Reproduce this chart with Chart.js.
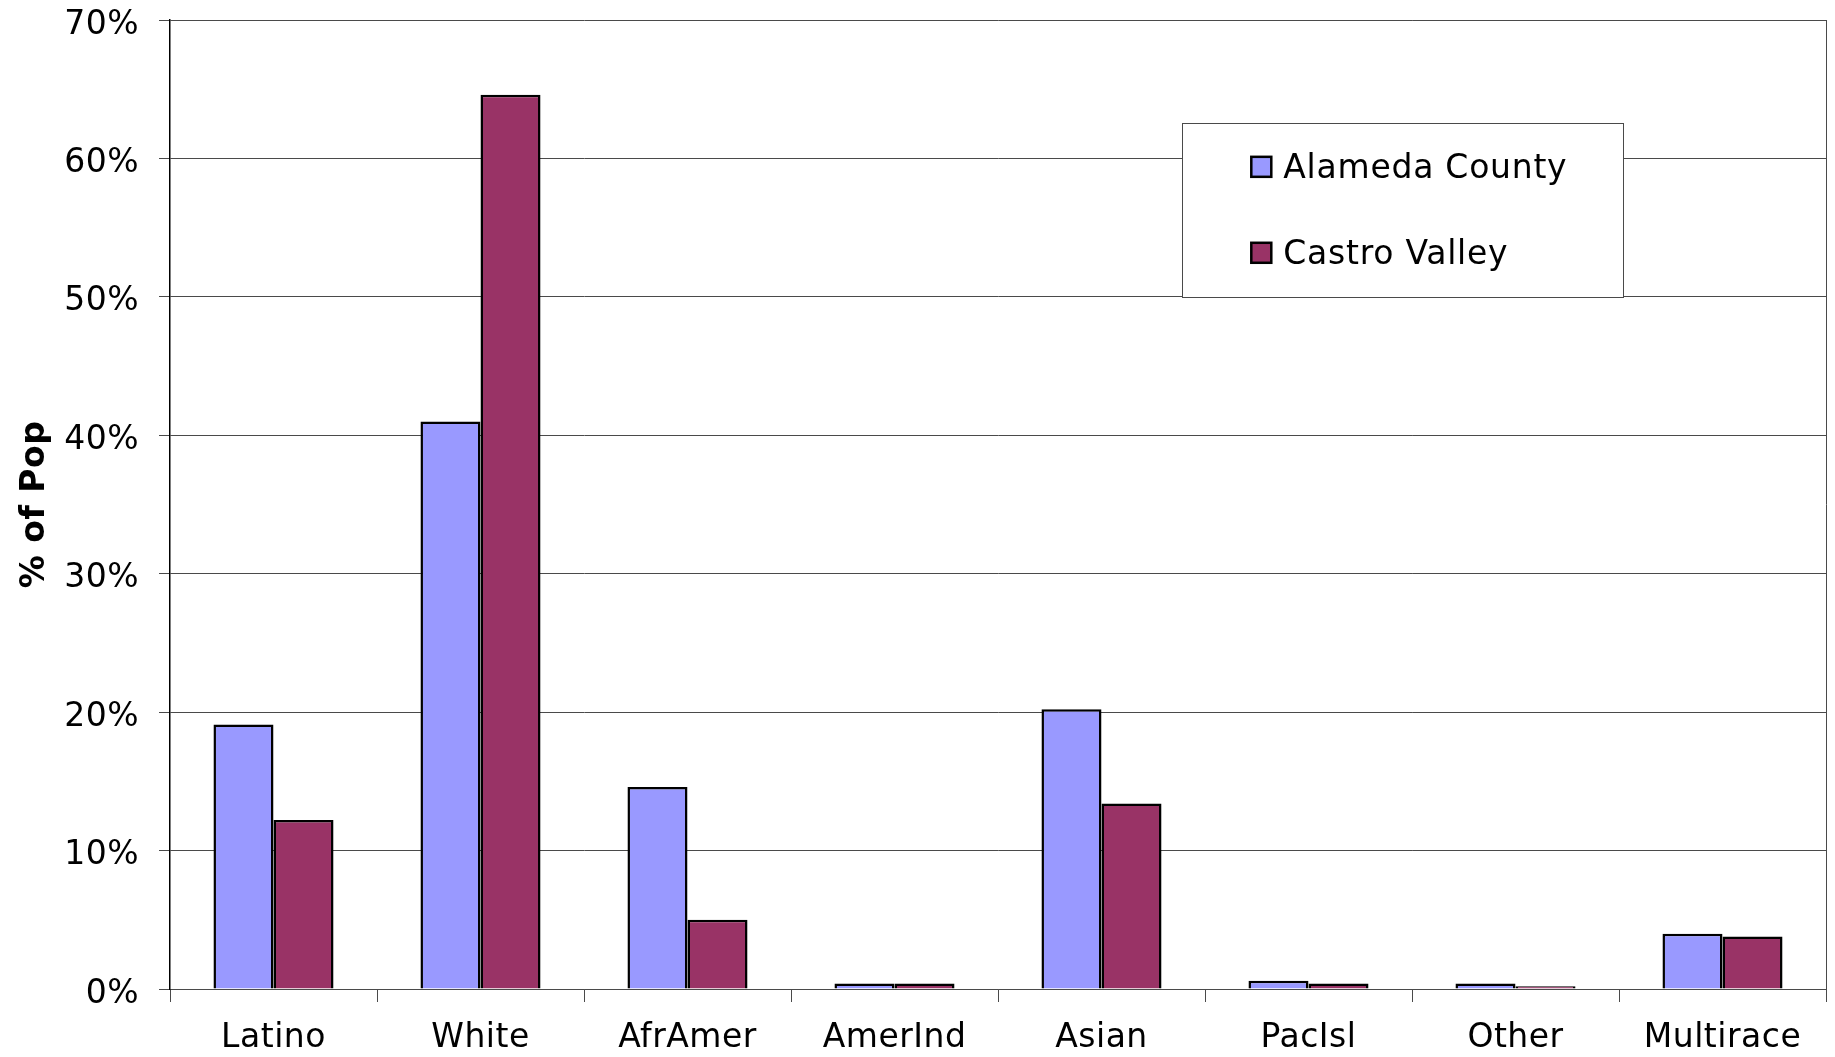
<!DOCTYPE html>
<html>
<head>
<meta charset="utf-8">
<script src="https://cdn.jsdelivr.net/npm/chart.js@4.4.1/dist/chart.umd.min.js"></script>
<style>
html, body { margin: 0; padding: 0; background: #fff; }
#wrap { width: 1835px; height: 1057px; }
</style>
</head>
<body>
<div id="wrap"><canvas id="popChart" width="1835" height="1057"></canvas></div>
<script>
const categories = ['Latino', 'White', 'AfrAmer', 'AmerInd', 'Asian', 'PacIsl', 'Other', 'Multirace'];
const alamedaCounty = [19.1, 41.0, 14.6, 0.4, 20.2, 0.6, 0.4, 4.0];
const castroValley = [12.2, 64.6, 5.0, 0.4, 13.4, 0.4, 0.2, 3.8];
const yTicks = [0, 10, 20, 30, 40, 50, 60, 70];
const seriesNames = ['Alameda County', 'Castro Valley'];
const seriesColors = ['#9999ff', '#993366'];

const FONT = 'DejaVu Sans';
const lineColor = '#4a4a4a';

// canvas loses letterSpacing whenever it is resized, so set it again before layout and draw
const spacing = {
    id: 'spacing',
    beforeUpdate(chart) { chart.ctx.letterSpacing = '0.5px'; },
    beforeLayout(chart) { chart.ctx.letterSpacing = '0.5px'; },
    beforeDraw(chart) { chart.ctx.letterSpacing = '0.5px'; }
};

const frame = {
    id: 'frame',
    beforeDatasetsDraw(chart) {
        const { ctx, chartArea: a } = chart;
        ctx.save();
        ctx.strokeStyle = lineColor;
        ctx.lineWidth = 1;
        ctx.beginPath();
        ctx.moveTo(Math.round(a.right) + 0.5, a.top);
        ctx.lineTo(Math.round(a.right) + 0.5, a.bottom);
        ctx.stroke();
        ctx.restore();
    }
};

const boxLegend = {
    id: 'boxLegend',
    afterDraw(chart) {
        const { ctx, chartArea: a } = chart;
        const w = a.right - a.left, h = a.bottom - a.top;
        const x0 = Math.round(a.left + w * 0.611) + 0.5;
        const x1 = Math.round(a.left + w * 0.8775) + 0.5;
        const y0 = Math.round(a.top + h * 0.106) + 0.5;
        const y1 = Math.round(chart.scales.y.getPixelForValue(50)) + 0.5;
        ctx.save();
        ctx.fillStyle = '#fff';
        ctx.fillRect(x0, y0, x1 - x0, y1 - y0);
        ctx.strokeStyle = lineColor;
        ctx.lineWidth = 1;
        ctx.strokeRect(x0, y0, x1 - x0, y1 - y0);
        ctx.font = '33px "' + FONT + '"';
        ctx.letterSpacing = '0.75px';
        ctx.textBaseline = 'middle';
        chart.data.datasets.forEach((ds, i) => {
            const cy = y0 + (y1 - y0) * (i === 0 ? 0.249 : 0.743);
            const sx = x0 + (x1 - x0) * 0.156;
            ctx.fillStyle = ds.backgroundColor;
            ctx.fillRect(sx, cy - 10, 20, 20);
            ctx.strokeStyle = '#000';
            ctx.lineWidth = 2.5;
            ctx.strokeRect(sx, cy - 10, 20, 20);
            ctx.fillStyle = '#000';
            ctx.fillText(ds.label, sx + 32, cy + 3);
        });
        ctx.restore();
    }
};

new Chart(document.getElementById('popChart'), {
    type: 'bar',
    data: {
        labels: categories,
        datasets: [
            { label: seriesNames[0], data: alamedaCounty, backgroundColor: seriesColors[0], borderColor: '#000', borderWidth: 2.5 },
            { label: seriesNames[1], data: castroValley, backgroundColor: seriesColors[1], borderColor: '#000', borderWidth: 2.5 }
        ]
    },
    options: {
        responsive: false,
        animation: false,
        devicePixelRatio: 1,
        layout: { padding: { top: 0, right: 9, left: 0, bottom: 0 } },
        datasets: { bar: { categoryPercentage: 0.58, barPercentage: 1.0 } },
        plugins: { legend: { display: false }, tooltip: { enabled: false } },
        scales: {
            x: {
                afterFit(scale) { scale.height = 68; },
                grid: { drawOnChartArea: false, tickLength: 13, color: lineColor, offset: true },
                border: { color: lineColor },
                ticks: { color: '#000', font: { family: FONT, size: 33 }, padding: 17, maxRotation: 0 }
            },
            y: {
                min: 0,
                max: 70,
                afterFit(scale) {
                    scale.width = 170;
                    scale.paddingTop = 20;
                    scale.paddingBottom = 0;
                },
                afterBuildTicks(scale) { scale.ticks = yTicks.map(v => ({ value: v })); },
                grid: { color: lineColor, tickLength: 11 },
                border: { color: '#000', width: 1.5 },
                ticks: {
                    color: '#000',
                    font: { family: FONT, size: 33 },
                    padding: 20,
                    labelOffset: 5,
                    callback: v => v + '%'
                },
                title: {
                    display: true,
                    text: '% of Pop',
                    color: '#000',
                    font: { family: FONT, size: 33, weight: 'bold' },
                    padding: { top: 16, bottom: 0 }
                }
            }
        }
    },
    plugins: [spacing, frame, boxLegend]
});
</script>
</body>
</html>
